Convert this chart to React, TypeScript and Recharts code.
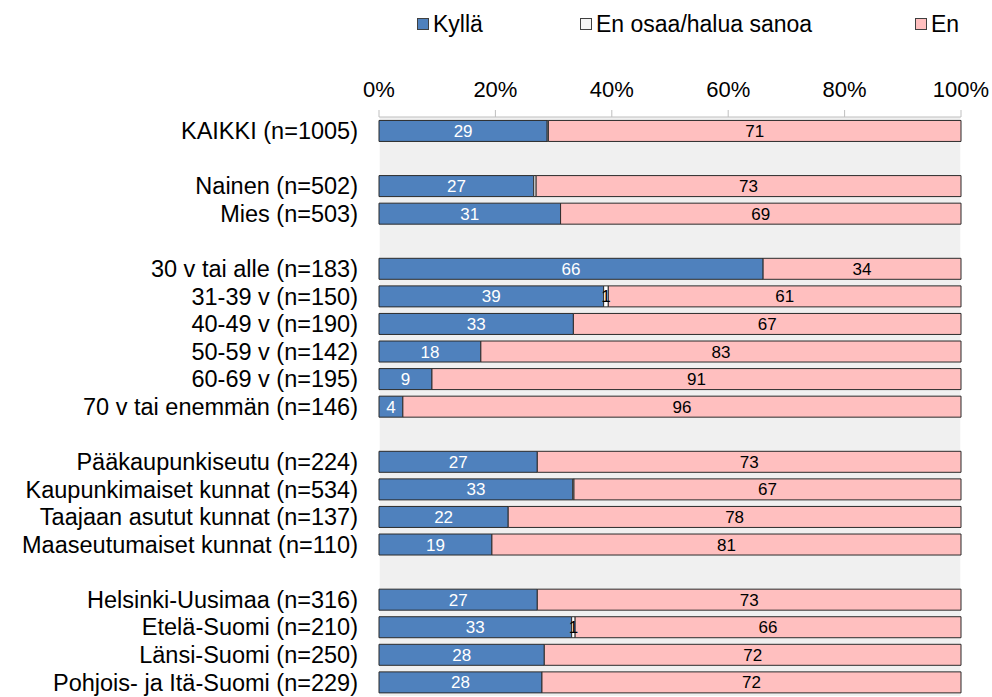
import { BarChart, Bar, XAxis, YAxis, CartesianGrid, LabelList } from "recharts";

const categories = [
  "KAIKKI (n=1005)",
  "",
  "Nainen (n=502)",
  "Mies (n=503)",
  "",
  "30 v tai alle (n=183)",
  "31-39 v (n=150)",
  "40-49 v (n=190)",
  "50-59 v (n=142)",
  "60-69 v (n=195)",
  "70 v tai enemmän (n=146)",
  "",
  "Pääkaupunkiseutu (n=224)",
  "Kaupunkimaiset kunnat (n=534)",
  "Taajaan asutut kunnat (n=137)",
  "Maaseutumaiset kunnat (n=110)",
  "",
  "Helsinki-Uusimaa (n=316)",
  "Etelä-Suomi (n=210)",
  "Länsi-Suomi (n=250)",
  "Pohjois- ja Itä-Suomi (n=229)",
];

const kylla = [28.9, null, 26.6, 31.2, null, 66.0, 38.6, 33.4, 17.5, 9.1, 4.1, null, 27.2, 33.3, 22.2, 19.4, null, 27.2, 33.1, 28.4, 28.0];
const enOsaa = [0.2, null, 0.4, 0, null, 0, 0.8, 0, 0, 0, 0, null, 0, 0.2, 0, 0, null, 0, 0.6, 0, 0];
const en = [70.9, null, 73.0, 68.8, null, 34.0, 60.6, 66.6, 82.5, 90.9, 95.9, null, 72.8, 66.5, 77.8, 80.6, null, 72.8, 66.3, 71.6, 72.0];

const axisTicks = [0, 20, 40, 60, 80, 100];
const gridTicks = [0, 10, 20, 30, 40, 50, 60, 70, 80, 90, 100];

const data = categories.map((name, i) => ({
  name,
  kylla: kylla[i],
  enOsaa: enOsaa[i],
  en: en[i],
}));

const BLUE = "#4f81bd";
const PINK = "#ffbfbf";
const WHITE = "#ffffff";
const EDGE = "#2b2b2b";

const fmt = (v: any) => (v == null || v < 0.5 ? "" : String(Math.round(v)));

const legendItems = [
  { label: "Kyllä", color: BLUE, left: 417 },
  { label: "En osaa/halua sanoa", color: "#f4f4f4", left: 580 },
  { label: "En", color: PINK, left: 915 },
];

export default function App() {
  return (
    <div
      style={{
        position: "absolute",
        left: 0,
        top: 0,
        width: 992,
        height: 697,
        fontFamily: "'Liberation Sans', Arial, sans-serif",
        background: "#fff",
      }}
    >
      {legendItems.map((it) => (
        <div
          key={it.label}
          style={{
            position: "absolute",
            left: it.left,
            top: 12,
            height: 24,
            display: "flex",
            alignItems: "center",
            fontSize: 23,
            color: "#000",
            whiteSpace: "nowrap",
          }}
        >
          <span
            style={{
              display: "inline-block",
              width: 10,
              height: 10,
              background: it.color,
              border: "1px solid #404040",
              marginRight: 4,
            }}
          />
          {it.label}
        </div>
      ))}
      <BarChart
        width={992}
        height={697}
        data={data}
        layout="vertical"
        margin={{ top: 67, right: 31, bottom: 1, left: 0 }}
        barCategoryGap="12.5%"
      >
        <XAxis
          xAxisId="grid"
          type="number"
          domain={[0, 100]}
          ticks={gridTicks}
          hide
        />
        <CartesianGrid
          xAxisId="grid"
          horizontal={false}
          stroke="#ffffff"
          strokeWidth={1.5}
          fill="#f0f0f0"
        />
        <XAxis
          xAxisId="main"
          type="number"
          orientation="top"
          domain={[0, 100]}
          ticks={axisTicks}
          tickFormatter={(v) => `${v}%`}
          height={50}
          tickSize={7}
          tickMargin={13}
          axisLine={{ stroke: "#bfbfbf" }}
          tickLine={{ stroke: "#bfbfbf" }}
          tick={{ fontSize: 22, fill: "#000" }}
          interval={0}
        />
        <YAxis
          type="category"
          dataKey="name"
          width={379}
          axisLine={false}
          tickLine={false}
          tickSize={0}
          tickMargin={21}
          interval={0}
          tick={{ fontSize: 23.5, fill: "#000" }}
        />
        <Bar dataKey="kylla" stackId="a" xAxisId="main" fill={BLUE} stroke={EDGE} strokeWidth={1} isAnimationActive={false}>
          <LabelList dataKey="kylla" position="center" formatter={fmt} fill="#ffffff" fontSize={17} />
        </Bar>
        <Bar dataKey="enOsaa" stackId="a" xAxisId="main" fill={WHITE} stroke={EDGE} strokeWidth={1} isAnimationActive={false}>
          <LabelList dataKey="enOsaa" position="center" formatter={fmt} fill="#000" fontSize={17} />
        </Bar>
        <Bar dataKey="en" stackId="a" xAxisId="main" fill={PINK} stroke={EDGE} strokeWidth={1} isAnimationActive={false}>
          <LabelList dataKey="en" position="center" formatter={fmt} fill="#000" fontSize={17} />
        </Bar>
      </BarChart>
    </div>
  );
}
